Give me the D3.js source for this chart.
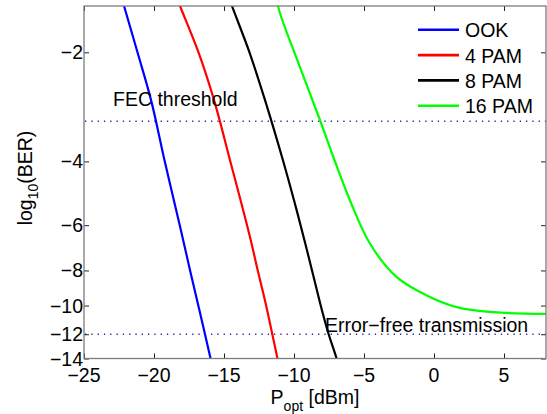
<!DOCTYPE html>
<html>
<head>
<meta charset="utf-8">
<script src="https://cdn.jsdelivr.net/npm/d3@7"></script>
<style>
  html, body { margin: 0; padding: 0; background: #fff; }
  svg { display: block; }
  text { font-family: "Liberation Sans", Arial, Helvetica, sans-serif; fill: #000; }
</style>
</head>
<body>
<svg id="chart" width="547" height="414"></svg>
<script>
// ---- data ----
const seriesNames = ["OOK", "4 PAM", "8 PAM", "16 PAM"];

const ookX = [-22.27, -22.14, -21.18, -20.21, -19.25, -18.14, -17.39, -16.82, -16.32, -15.96, -15.86];
const ookY = [-1.43, -1.49, -2.0, -2.71, -3.97, -6.05, -8.10, -10.06, -12.17, -14.0, -14.55];

const pam4X = [-18.31, -18.14, -16.82, -15.71, -14.57, -13.21, -12.54, -11.96, -11.5, -11.18, -11.09];
const pam4Y = [-1.43, -1.49, -2.0, -2.71, -3.97, -6.32, -8.15, -10.12, -12.25, -14.0, -14.55];

const pam8X = [-14.59, -14.43, -13.18, -12.07, -10.79, -10.0, -9.25, -8.54, -8.0, -7.54, -6.96, -6.86];
const pam8Y = [-1.43, -1.49, -2.0, -2.71, -3.97, -5.12, -6.61, -8.52, -10.32, -11.94, -14.0, -14.55];

const pam16X = [-11.3, -11.0, -9.57, -8.14, -7.19, -6.0, -4.57, -2.66, -0.52, 1.62, 4.24, 8.0];
const pam16Y = [-1.40, -1.56, -2.20, -3.08, -3.89, -5.13, -6.75, -8.35, -9.38, -10.10, -10.43, -10.54];

const xTicks = [-25, -20, -15, -10, -5, 0, 5];
const yTicks = [-2, -4, -6, -8, -10, -12, -14];

const fecLevel = -3.1;
const errorFreeLevel = -12;
const xDomain = [-25, 8];
const yDomain = [-1.49, -14];

// ---- layout ----
const L = 84, R = 546, T = 6, B = 358.5;
const colors = ["#0000ff", "#ff0000", "#000000", "#00ff00"];
const FONT = 19.5;

const svg = d3.select("#chart");

const x = d3.scaleLinear().domain(xDomain).range([L, R]);
// log10(BER) axis drawn on a log(-value) scale
const yl = d3.scaleLog().domain([-yDomain[0], -yDomain[1]]).range([T, B]);
const y = v => yl(-v);

const series = [
  {name: seriesNames[0], xs: ookX, ys: ookY},
  {name: seriesNames[1], xs: pam4X, ys: pam4Y},
  {name: seriesNames[2], xs: pam8X, ys: pam8Y},
  {name: seriesNames[3], xs: pam16X, ys: pam16Y}
];

svg.append("defs").append("clipPath").attr("id", "clip")
  .append("rect").attr("x", L).attr("y", T).attr("width", R - L).attr("height", B - T);

// reference lines
const refColor = "#2a2a9e";
[fecLevel, errorFreeLevel].forEach(v => {
  svg.append("line")
    .attr("x1", L + 1).attr("x2", R)
    .attr("y1", y(v)).attr("y2", y(v))
    .attr("stroke", refColor).attr("stroke-width", 1.4)
    .attr("stroke-dasharray", "1.3,5");
});

// curves
const plot = svg.append("g").attr("clip-path", "url(#clip)");
series.forEach((s, i) => {
  const pts = s.xs.map((d, k) => [d, s.ys[k]]);
  const line = d3.line().x(d => x(d[0])).y(d => y(d[1]))
    .curve(d3.curveCatmullRom.alpha(0.5));
  plot.append("path").datum(pts)
    .attr("d", line)
    .attr("fill", "none")
    .attr("stroke", colors[i])
    .attr("stroke-width", 2.2)
    .attr("stroke-linejoin", "round");
});

// annotation texts
svg.append("text").attr("x", 113).attr("y", 106)
  .style("font-size", FONT + "px").text("FEC threshold");
svg.append("text").attr("x", 325).attr("y", 332)
  .style("font-size", FONT + "px").text("Error\u2212free transmission");

// axes box + ticks (inward, mirrored on all four sides)
const tickLen = 5;
function styleAxis(g) {
  g.select(".domain").remove();
  g.selectAll(".tick line").attr("stroke", "#222").attr("stroke-width", 1);
}
const yTickVals = yTicks.map(v => -v);
svg.append("g").attr("transform", `translate(0,${B})`)
  .call(d3.axisTop(x).tickValues(xTicks).tickSize(tickLen).tickFormat("")).call(styleAxis);
svg.append("g").attr("transform", `translate(0,${T})`)
  .call(d3.axisBottom(x).tickValues(xTicks).tickSize(tickLen).tickFormat("")).call(styleAxis);
svg.append("g").attr("transform", `translate(${L},0)`)
  .call(d3.axisRight(yl).tickValues(yTickVals).tickSize(tickLen).tickFormat("")).call(styleAxis);
svg.append("g").attr("transform", `translate(${R},0)`)
  .call(d3.axisLeft(yl).tickValues(yTickVals).tickSize(tickLen).tickFormat("")).call(styleAxis);

svg.append("rect").attr("x", L).attr("y", T).attr("width", R - L).attr("height", B - T)
  .attr("fill", "none").attr("stroke", "#7c7c7c").attr("stroke-width", 1.3);

// tick labels
const fmt = v => (v < 0 ? "\u2212" + Math.abs(v) : String(v));
svg.append("g").selectAll("text").data(xTicks).join("text")
  .attr("x", d => x(d)).attr("y", 382)
  .attr("text-anchor", "middle")
  .style("font-size", FONT + "px")
  .text(fmt);
svg.append("g").selectAll("text").data(yTicks).join("text")
  .attr("x", 83).attr("y", d => y(d)).attr("dy", "0.36em")
  .attr("text-anchor", "end")
  .style("font-size", FONT + "px")
  .text(fmt);

// axis labels
const xl = svg.append("text").attr("x", 315).attr("y", 404)
  .attr("text-anchor", "middle").style("font-size", FONT + "px");
xl.append("tspan").text("P");
xl.append("tspan").attr("dy", 7).style("font-size", "14px").text("opt");
xl.append("tspan").attr("dy", -7).text(" [dBm]");

const ylab = svg.append("text")
  .attr("transform", "translate(32,178) rotate(-90)")
  .attr("text-anchor", "middle").style("font-size", FONT + "px");
ylab.append("tspan").text("log");
ylab.append("tspan").attr("dy", 6).style("font-size", "14px").text("10");
ylab.append("tspan").attr("dy", -6).text("(BER)");

// legend
const lg = svg.append("g");
series.forEach((s, i) => {
  const base = 37.3 + i * 25.3;
  lg.append("line")
    .attr("x1", 418).attr("x2", 459)
    .attr("y1", base - 7.5).attr("y2", base - 7.5)
    .attr("stroke", colors[i]).attr("stroke-width", 2.6);
  lg.append("text").attr("x", 465).attr("y", base)
    .style("font-size", FONT + "px").text(s.name);
});
</script>
</body>
</html>
